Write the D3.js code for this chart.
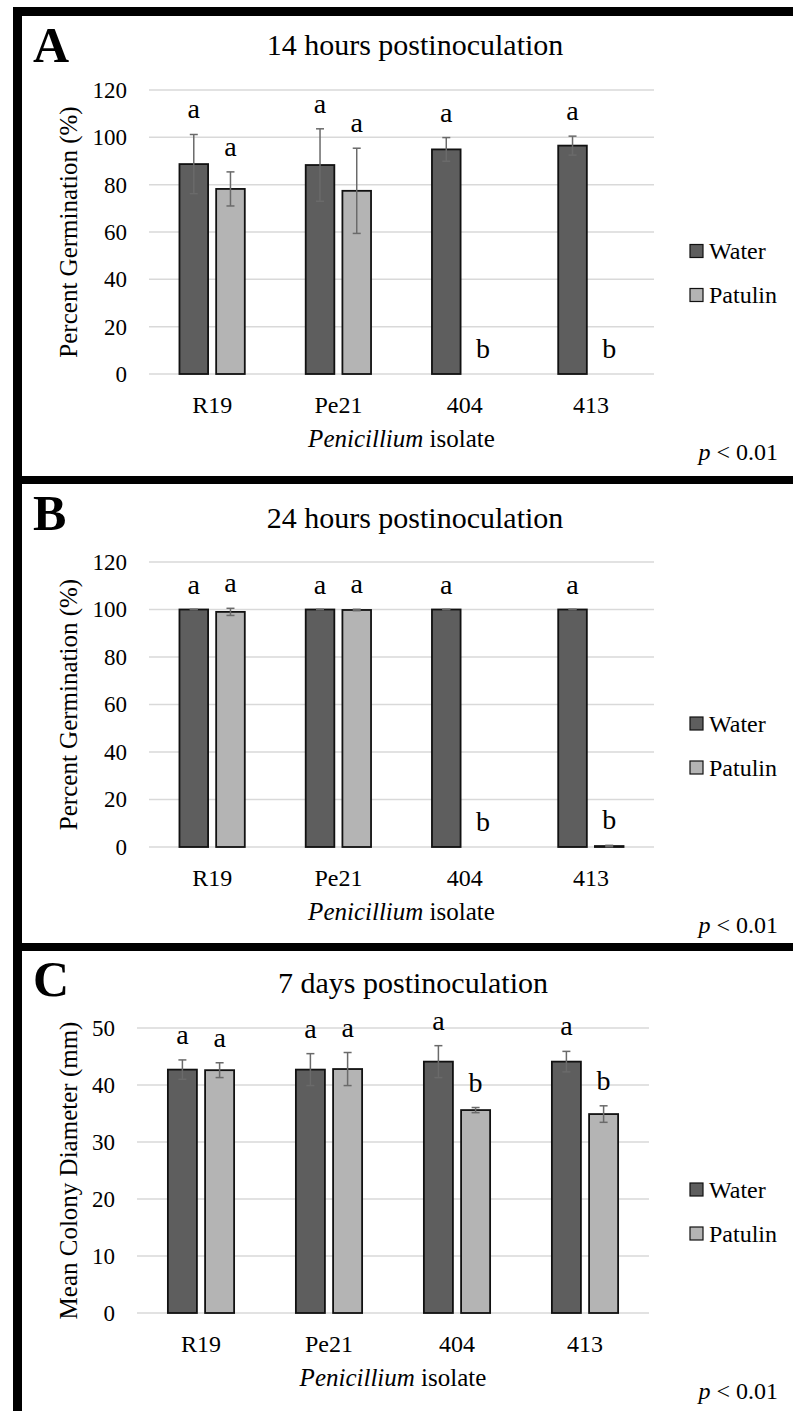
<!DOCTYPE html>
<html>
<head>
<meta charset="utf-8">
<style>
  body {margin: 0; background: #fff;}
  svg text {font-family: "Liberation Serif", "Times New Roman", Times, Tinos, "DejaVu Serif", serif; fill: #000;}
</style>
<script src="https://d3js.org/d3.v7.min.js"></script>
</head>
<body>
<div id="chart"></div>
<script>

const isolates = ["R19", "Pe21", "404", "413"]
const series = ["Water", "Patulin"]

// panel A - 14 h germination (%)
const waterA = [88.7, 88.3, 94.9, 96.5]
const waterAErr = [12.5, 15.3, 5.0, 4.0]
const patulinA = [78.2, 77.4, 0, 0]
const patulinAErr = [7.2, 18.0, 0, 0]
const waterALetters = ["a", "a", "a", "a"]
const patulinALetters = ["a", "a", "b", "b"]

// panel B - 24 h germination (%)
const waterB = [100, 100, 100, 100]
const waterBErr = [0, 0, 0, 0]
const patulinB = [99.0, 99.8, 0, 0.4]
const patulinBErr = [1.5, 0.3, 0, 0.3]
const waterBLetters = ["a", "a", "a", "a"]
const patulinBLetters = ["a", "a", "b", "b"]

// panel C - 7 d colony diameter (mm)
const waterC = [42.7, 42.7, 44.1, 44.1]
const waterCErr = [1.7, 2.8, 2.8, 1.8]
const patulinC = [42.6, 42.8, 35.6, 34.9]
const patulinCErr = [1.3, 2.9, 0.45, 1.45]
const waterCLetters = ["a", "a", "a", "a"]
const patulinCLetters = ["a", "a", "b", "b"]

const ticksGerm = [0, 20, 40, 60, 80, 100, 120]
const ticksDiam = [0, 10, 20, 30, 40, 50]

const colors = {Water: "#5e5e5e", Patulin: "#b4b4b4"}
const serif = "'Liberation Serif', 'Times New Roman', Times, Tinos, 'DejaVu Serif', serif"

const W = 793, H = 1411

const svg = d3.select("#chart").append("svg")
  .attr("width", W)
  .attr("height", H)
  .attr("font-family", serif)

svg.append("rect").attr("width", W).attr("height", H).attr("fill", "#fff")

const panels = [
  {
    tag: "A", title: "14 hours postinoculation", yTitle: "Percent Germination (%)",
    water: waterA, waterErr: waterAErr, patulin: patulinA, patulinErr: patulinAErr,
    wl: waterALetters, pl: patulinALetters, ticks: ticksGerm, max: 120,
    top: 90, bottom: 374, left: 149, right: 654, titleY: 55, titleX: 415, tagY: 62
  },
  {
    tag: "B", title: "24 hours postinoculation", yTitle: "Percent Germination (%)",
    water: waterB, waterErr: waterBErr, patulin: patulinB, patulinErr: patulinBErr,
    wl: waterBLetters, pl: patulinBLetters, ticks: ticksGerm, max: 120,
    top: 562, bottom: 847, left: 149, right: 654, titleY: 528, titleX: 415, tagY: 530
  },
  {
    tag: "C", title: "7 days postinoculation", yTitle: "Mean Colony Diameter (mm)",
    water: waterC, waterErr: waterCErr, patulin: patulinC, patulinErr: patulinCErr,
    wl: waterCLetters, pl: patulinCLetters, ticks: ticksDiam, max: 50,
    top: 1028, bottom: 1313, left: 137, right: 649, titleY: 993, titleX: 413, tagY: 996
  }
]

panels.forEach(drawPanel)

// frame: top, left and the two separators
const frame = svg.append("g").attr("fill", "#000")
frame.append("rect").attr("x", 13).attr("y", 7).attr("width", W - 13).attr("height", 9)
frame.append("rect").attr("x", 13).attr("y", 7).attr("width", 9).attr("height", H - 7)
frame.append("rect").attr("x", 13).attr("y", 476).attr("width", W - 13).attr("height", 8)
frame.append("rect").attr("x", 13).attr("y", 943).attr("width", W - 13).attr("height", 8)

function drawPanel(p) {
  const g = svg.append("g")

  const x0 = d3.scaleBand().domain(isolates).range([p.left, p.right]).padding(0)
  const x1 = d3.scaleBand().domain(series).range([0, x0.bandwidth()])
    .paddingInner(0.22).paddingOuter(0.83)
  const y = d3.scaleLinear().domain([0, p.max]).range([p.bottom, p.top])

  // gridlines
  g.append("g").selectAll("line").data(p.ticks).join("line")
    .attr("x1", p.left).attr("x2", p.right)
    .attr("y1", d => y(d)).attr("y2", d => y(d))
    .attr("stroke", "#d9d9d9").attr("stroke-width", 1.5)

  // y axis labels
  const yAxis = d3.axisLeft(y).tickValues(p.ticks).tickSize(0).tickPadding(22)
  const ya = g.append("g").attr("transform", `translate(${p.left},0)`).call(yAxis)
    .attr("font-family", serif)
  ya.select(".domain").remove()
  ya.selectAll("text").attr("font-size", 23).attr("fill", "#000")

  // x axis labels
  const xAxis = d3.axisBottom(x0).tickSize(0).tickPadding(22)
  const xa = g.append("g").attr("transform", `translate(0,${p.bottom})`).call(xAxis)
    .attr("font-family", serif)
  xa.select(".domain").remove()
  xa.selectAll("text").attr("font-size", 24).attr("fill", "#000")

  const rows = []
  isolates.forEach((iso, i) => {
    rows.push({iso, s: "Water", v: p.water[i], e: p.waterErr[i], l: p.wl[i]})
    rows.push({iso, s: "Patulin", v: p.patulin[i], e: p.patulinErr[i], l: p.pl[i]})
  })
  const cx = d => x0(d.iso) + x1(d.s) + x1.bandwidth() / 2

  // bars
  g.append("g").selectAll("rect").data(rows.filter(d => d.v > 0)).join("rect")
    .attr("x", d => x0(d.iso) + x1(d.s))
    .attr("y", d => y(d.v))
    .attr("width", x1.bandwidth())
    .attr("height", d => y(0) - y(d.v))
    .attr("fill", d => colors[d.s])
    .attr("stroke", "#111").attr("stroke-width", 1.8)

  // error bars
  const eb = g.append("g").attr("stroke", "#6a6a6a").attr("stroke-width", 1.5)
    .selectAll("g").data(rows.filter(d => d.v > 0)).join("g")
  eb.append("line")
    .attr("x1", cx).attr("x2", cx)
    .attr("y1", d => y(d.v + d.e)).attr("y2", d => y(Math.max(0, d.v - d.e)))
  eb.append("line")
    .attr("x1", d => cx(d) - 4).attr("x2", d => cx(d) + 4)
    .attr("y1", d => y(d.v + d.e)).attr("y2", d => y(d.v + d.e))
  eb.append("line")
    .attr("x1", d => cx(d) - 4).attr("x2", d => cx(d) + 4)
    .attr("y1", d => y(Math.max(0, d.v - d.e))).attr("y2", d => y(Math.max(0, d.v - d.e)))

  // significance letters
  g.append("g").selectAll("text").data(rows).join("text")
    .attr("x", cx)
    .attr("y", d => y(d.v + d.e) - 16)
    .attr("text-anchor", "middle")
    .attr("font-size", 28)
    .text(d => d.l)

  // titles
  g.append("text").attr("x", 33).attr("y", p.tagY)
    .attr("font-size", 50).attr("font-weight", "bold").text(p.tag)
  g.append("text").attr("x", p.titleX).attr("y", p.titleY)
    .attr("text-anchor", "middle").attr("font-size", 30).text(p.title)

  const midY = (p.top + p.bottom) / 2
  g.append("text")
    .attr("transform", `translate(77,${midY}) rotate(-90)`)
    .attr("text-anchor", "middle").attr("font-size", 25).text(p.yTitle)

  const xt = g.append("text").attr("x", (p.left + p.right) / 2).attr("y", p.bottom + 73)
    .attr("text-anchor", "middle").attr("font-size", 25)
  xt.append("tspan").attr("font-style", "italic").text("Penicillium")
  xt.append("tspan").text(" isolate")

  const pv = g.append("text").attr("x", 778).attr("y", p.bottom + 86)
    .attr("text-anchor", "end").attr("font-size", 24)
  pv.append("tspan").attr("font-style", "italic").text("p")
  pv.append("tspan").text(" < 0.01")

  // legend
  const lg = g.append("g").selectAll("g").data(series).join("g")
    .attr("transform", (d, i) => `translate(690,${midY + 41 + (i - 0.5) * 44})`)
  lg.append("rect").attr("x", 0).attr("y", -6.5).attr("width", 13).attr("height", 13)
    .attr("fill", d => colors[d]).attr("stroke", "#111").attr("stroke-width", 1.2)
  lg.append("text").attr("x", 19).attr("dy", "0.35em").attr("font-size", 24).text(d => d)
}

</script>
</body>
</html>
